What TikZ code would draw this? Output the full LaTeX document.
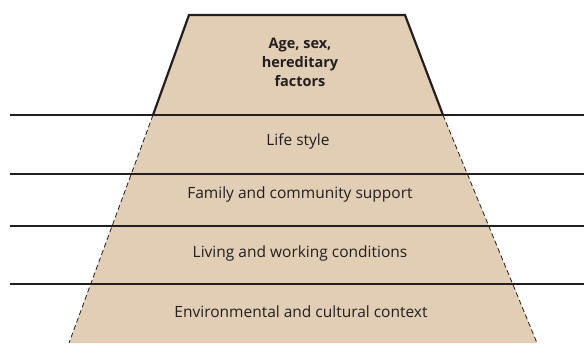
\documentclass[tikz,border=0pt]{standalone}
\usepackage{fontspec}
\setmainfont{Open Sans}
\definecolor{sand}{RGB}{226,205,181}
\definecolor{ink}{RGB}{35,31,32}
\tikzset{
  layer/.style={font=\fontsize{15.5}{18}\selectfont, text=ink},
  peak/.style={font=\bfseries\fontsize{14.5}{19}\selectfont, text=ink, align=center},
  border/.style={ink, line width=2.2pt},
  edge/.style={ink, line width=0.8pt, dash pattern=on 5pt off 3pt}
}
\begin{document}
\begin{tikzpicture}[x=1pt,y=-1pt]
\useasboundingbox (0,0) rectangle (584,343);
% fills
\fill[sand] (153,115) -- (443,115) -- (537,343) -- (69,343) -- cycle;
\fill[sand] (189,15) -- (405,15) -- (443,115) -- (153,115) -- cycle;
% dashed sides
\draw[edge] (153,115) -- (69,343);
\draw[edge] (443,115) -- (537,343);
% levels
\draw[border] (10,115) -- (584,115);
\draw[border] (10,174) -- (584,174);
\draw[border] (10,226) -- (584,226);
\draw[border] (10,284) -- (584,284);
% top block
\draw[border, line join=miter] (153,115) -- (189,15) -- (405,15) -- (443,115);

\node[peak] (age) at (300,62) {Age, sex,\\hereditary\\factors};
\node[layer] (life) at (298,141) {Life style};
\node[layer] (family) at (300,194) {Family and community support};
\node[layer] (living) at (300,253) {Living and working conditions};
\node[layer] (env) at (301,312) {Environmental and cultural context};

\end{tikzpicture}
\end{document}
